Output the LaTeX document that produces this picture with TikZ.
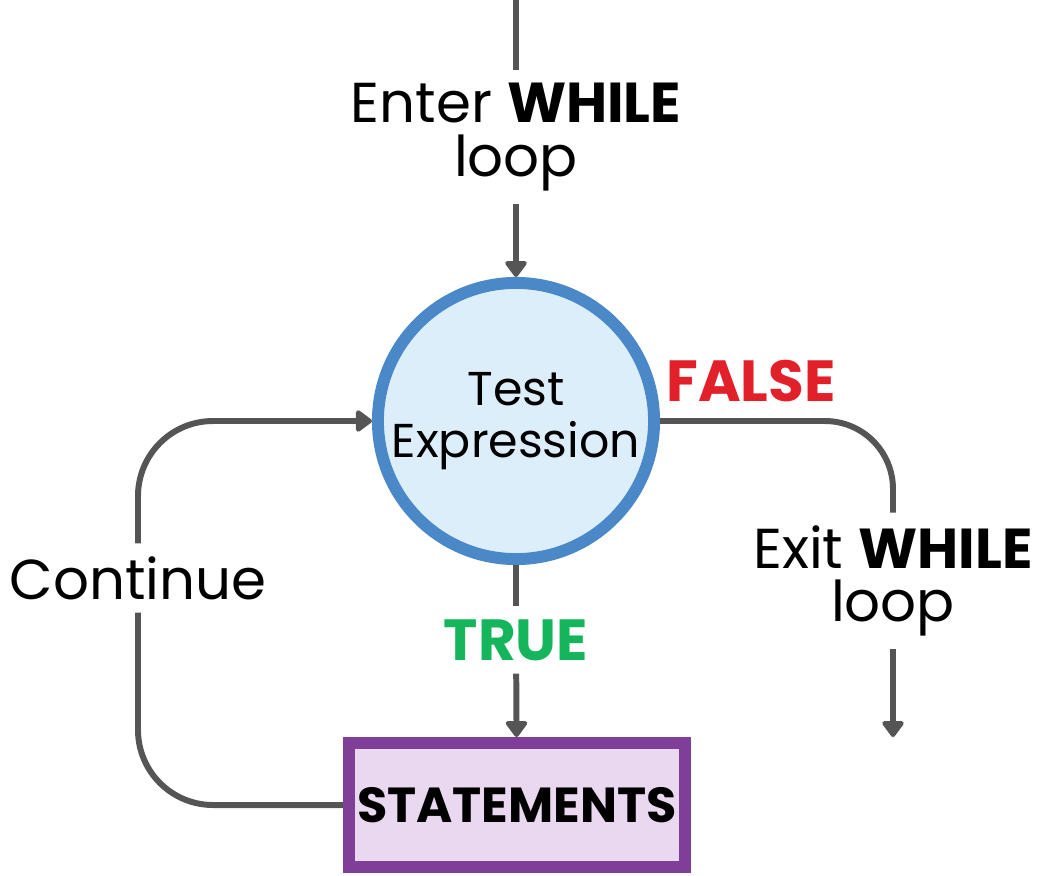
\documentclass[tikz,border=0pt]{standalone}
\usepackage{fontspec}
\setmainfont{Poppins}
\usepackage{xcolor}
\usetikzlibrary{arrows.meta,positioning}
\definecolor{linegray}{HTML}{555555}
\definecolor{testblue}{HTML}{4A88C7}
\definecolor{testfill}{HTML}{DDEEFB}
\definecolor{stmtpurple}{HTML}{7F3F98}
\definecolor{stmtfill}{HTML}{EAD8F0}
\definecolor{falsered}{HTML}{E2202A}
\definecolor{truegreen}{HTML}{14B55B}

\begin{document}
\begin{tikzpicture}[
    x=0.01cm, y=-0.01cm,
    lbl/.style={align=center, inner sep=3.5pt, font=\fontsize{16}{15.2}\selectfont},
    flag/.style={lbl, font=\bfseries\fontsize{16.5}{15.2}\selectfont},
    test/.style={circle, draw=testblue, fill=testfill, line width=3.4pt, inner sep=0pt, minimum size=2.76cm, align=center, font=\fontsize{13.5}{14.8}\selectfont},
    stmtbox/.style={rectangle, draw=stmtpurple, fill=stmtfill, line width=3.4pt, inner sep=0pt, minimum width=3.36cm, minimum height=1.24cm, font=\bfseries\fontsize{14}{17}\selectfont},
    line/.style={draw=linegray, line width=1.7pt},
    arrow/.style={line, -{Triangle[length=5pt, width=7pt, round]}}
]
\useasboundingbox (0,0) rectangle (1063,875);

\node[test] (test) at (516,421) {Test\\Expression};
\node[stmtbox] (stmt) at (517,805) {STATEMENTS};
\coordinate (start) at (516,0);
\node[lbl] (enter) at (516,137) {Enter \textbf{WHILE}\\loop};
\node[flag, text=truegreen] (true) at (516,640) {TRUE};
\node[flag, text=falsered] (false) at (751,381) {FALSE};
\node[lbl] (exit) at (893,581) {Exit \textbf{WHILE}\\loop};
\coordinate (out) at (893,737);
\node[lbl] (cont) at (138,578) {Continue};

\draw[line] (start) -- (enter);
\draw[arrow] (enter) -- (test);
\draw[line] (test) -- (true);
\draw[arrow] (true) -- (stmt);
\draw[line, rounded corners=0.68cm] (test.east) -| (exit);
\draw[arrow] (exit) -- (out);
\draw[line, rounded corners=0.75cm] (stmt.west) -| (cont);
\draw[arrow, rounded corners=0.75cm] (cont) |- (test.west);
\end{tikzpicture}
\end{document}
